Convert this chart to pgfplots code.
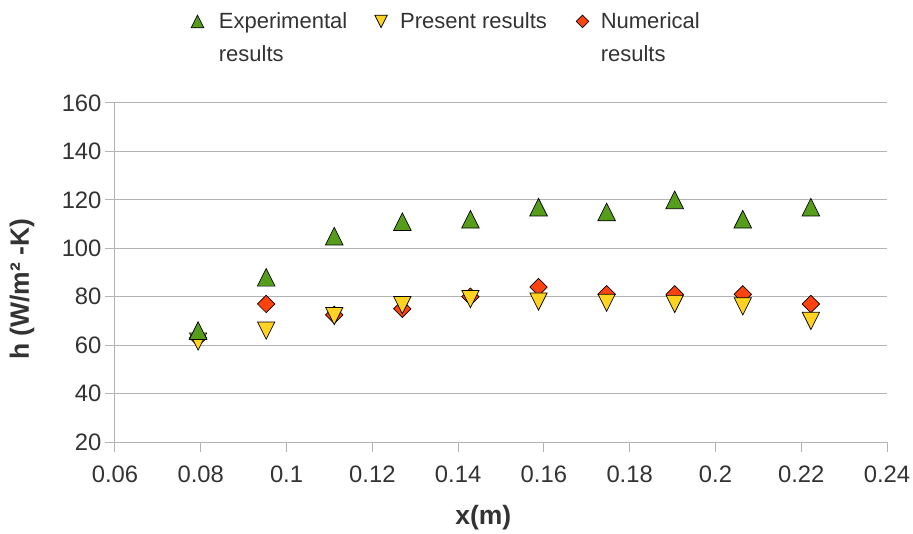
\documentclass[border=0pt]{standalone}
\usepackage{pgfplots}
\pgfplotsset{compat=1.18}
\usepackage{fontspec}
\setmainfont{Liberation Sans}
\definecolor{cgreen}{HTML}{579D1C}
\definecolor{cyellow}{HTML}{FFD320}
\definecolor{cred}{HTML}{FF420E}
\definecolor{cgrid}{HTML}{B3B3B3}
\definecolor{ctext}{HTML}{333333}
\pgfdeclareplotmark{uptri}{%
  \pgfpathmoveto{\pgfqpoint{0pt}{8.8pt}}%
  \pgfpathlineto{\pgfqpoint{8.8pt}{-8.8pt}}%
  \pgfpathlineto{\pgfqpoint{-8.8pt}{-8.8pt}}%
  \pgfpathclose\pgfusepathqfillstroke}
\pgfdeclareplotmark{dntri}{%
  \pgfpathmoveto{\pgfqpoint{0pt}{-8.6pt}}%
  \pgfpathlineto{\pgfqpoint{8.6pt}{8.6pt}}%
  \pgfpathlineto{\pgfqpoint{-8.6pt}{8.6pt}}%
  \pgfpathclose\pgfusepathqfillstroke}
\pgfdeclareplotmark{dia}{%
  \pgfpathmoveto{\pgfqpoint{0pt}{8.7pt}}%
  \pgfpathlineto{\pgfqpoint{8.7pt}{0pt}}%
  \pgfpathlineto{\pgfqpoint{0pt}{-8.7pt}}%
  \pgfpathlineto{\pgfqpoint{-8.7pt}{0pt}}%
  \pgfpathclose\pgfusepathqfillstroke}
\pgfplotstableread{
x        exp   pres  num
0.079375 66    61.5  63
0.09525  88    66    77
0.111125 105   72    72.5
0.127    111   76.5  75
0.142875 112   79    80
0.15875  117   78    84
0.174625 115   77.5  81
0.1905   120   77    81
0.206375 112   76    81
0.22225  117   70    77
}\datatable
\begin{document}
\begin{tikzpicture}
\begin{axis}[
  name=ax,
  scale only axis,
  width=772pt, height=339pt,
  xmin=0.06, xmax=0.24, ymin=20, ymax=160,
  xtick={0.06,0.08,0.1,0.12,0.14,0.16,0.18,0.2,0.22,0.24},
  xticklabels={0.06,0.08,0.1,0.12,0.14,0.16,0.18,0.2,0.22,0.24},
  ytick={20,40,60,80,100,120,140,160},
  axis x line*=bottom, axis y line*=left,
  axis line style={cgrid, line width=1pt, -},
  tick align=outside, major tick length=10pt,
  tick style={cgrid, line width=1pt},
  ymajorgrids, grid style={cgrid, line width=1pt},
  /pgf/number format/assume math mode=true,
  tick label style={font=\fontsize{23.8}{28}\selectfont, text=ctext},
  xticklabel style={yshift=-10pt},
  xlabel={x(m)}, ylabel={h (W/m² -K)},
  xlabel style={at={(axis description cs:0.477,-0.224)}, anchor=center,
     font=\bfseries\fontsize{26.5}{30}\selectfont, text=ctext},
  ylabel style={at={(axis description cs:-0.1205,0.451)}, rotate=0, anchor=center,
     font=\bfseries\fontsize{26.5}{30}\selectfont, text=ctext},
  legend columns=3,
  legend image code/.code={\draw[mark repeat=2,mark phase=2] plot coordinates {(-6pt,0pt)(0pt,0pt)(6pt,0pt)};},
  legend style={draw=none, fill=none, at={(axis description cs:0.0987,1.2406)}, anchor=west,
     inner sep=0pt, outer sep=0pt, column sep=0pt,
     font=\fontsize{22}{33}\selectfont, text=ctext,
     nodes={inner sep=0pt, anchor=west}},
  clip=false,
]
\addlegendimage{only marks, mark=uptri, mark options={scale=0.72, fill=cgreen, draw=black, line width=0.7pt}}
\addlegendentry{\hspace{15pt}\raisebox{0pt}[\height][0pt]{\parbox[t]{156pt}{Experimental\\results}}}
\addlegendimage{only marks, mark=dntri, mark options={scale=0.72, fill=cyellow, draw=black, line width=0.7pt}}
\addlegendentry{\hspace{13pt}\raisebox{0pt}[\height][0pt]{\parbox[t]{176pt}{Present results}}}
\addlegendimage{only marks, mark=dia, mark options={scale=0.72, fill=cred, draw=black, line width=0.7pt}}
\addlegendentry{\hspace{12pt}\raisebox{0pt}[\height][0pt]{\parbox[t]{120pt}{Numerical\\results}}}
\addplot[forget plot, only marks, mark=dia, mark options={fill=cred, draw=black, line width=0.7pt}] table[x=x, y=num] {\datatable};
\addplot[forget plot, only marks, mark=dntri, mark options={fill=cyellow, draw=black, line width=0.7pt}] table[x=x, y=pres] {\datatable};
\addplot[forget plot, only marks, mark=uptri, mark options={fill=cgreen, draw=black, line width=0.7pt}] table[x=x, y=exp] {\datatable};
\end{axis}
\pgfresetboundingbox
\path ([shift={(-115pt,-91pt)}]ax.south west) rectangle ([shift={(26pt,103pt)}]ax.north east);
\end{tikzpicture}
\end{document}
